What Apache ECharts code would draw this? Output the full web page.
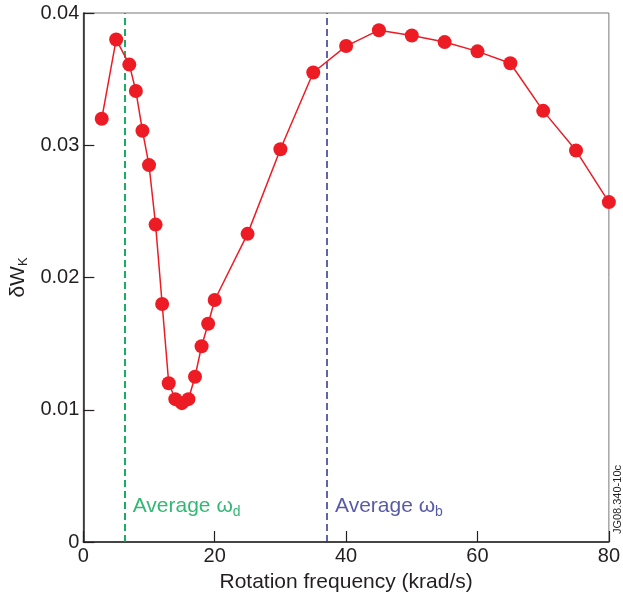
<!DOCTYPE html>
<html>
<head>
<meta charset="utf-8">
<script src="https://cdn.jsdelivr.net/npm/echarts@6/dist/echarts.min.js"></script>
<style>
  html, body { margin: 0; padding: 0; background: #fff; }
  #chart { width: 623px; height: 600px; }
</style>
</head>
<body>
<div id="chart"></div>
<script>
// rotation frequency (krad/s) and deltaW_K
const freq = [2.8, 5, 7, 8, 9, 10, 11, 12, 13, 14, 15, 16, 17, 18, 19, 20, 25, 30, 35, 40, 45, 50, 55, 60, 65, 70, 75, 80];
const dWk = [0.0320, 0.0380, 0.0361, 0.0341, 0.0311, 0.0285, 0.0240, 0.0180, 0.0120, 0.0108, 0.0105, 0.0108, 0.0125, 0.0148, 0.0165, 0.0183, 0.0233, 0.0297, 0.0355, 0.0375, 0.0387, 0.0383, 0.0378, 0.0371, 0.0362, 0.0326, 0.0296, 0.0257];

// average frequencies (vertical dashed lines)
const avgOmegaD = 6.3;
const avgOmegaB = 37.1;
const labelY = 0.0027;

const xTicks = [0, 20, 40, 60, 80];
const yTicks = [0, 0.01, 0.02, 0.03, 0.04];

const font = '"Liberation Sans", Arial, Helvetica, sans-serif';
const ink = '#231f20';
const red = '#ed1c24';
const green = '#00a651';
const blue = '#2e3192';

const chart = echarts.init(document.getElementById('chart'));

const option = {
  animation: false,
  grid: {
    left: 80,
    right: 14,
    top: 13,
    bottom: 58,
    show: true,
    borderColor: '#777',
    borderWidth: 1
  },
  xAxis: {
    type: 'value',
    min: xTicks[0],
    max: xTicks[xTicks.length - 1],
    interval: 20,
    name: 'Rotation frequency (krad/s)',
    nameLocation: 'middle',
    nameGap: 30,
    nameTextStyle: { fontFamily: font, fontSize: 21, color: ink },
    axisLine: { lineStyle: { color: ink, width: 1.5 } },
    axisTick: { inside: true, length: 11, lineStyle: { color: ink, width: 1.2 } },
    axisLabel: { fontFamily: font, fontSize: 20, color: ink, margin: 4 },
    splitLine: { show: false }
  },
  yAxis: {
    type: 'value',
    min: yTicks[0],
    max: yTicks[yTicks.length - 1],
    interval: 0.01,
    name: '{a|δW}{sub|K}',
    nameLocation: 'middle',
    nameGap: 39,
    nameRotate: 90,
    nameTextStyle: {
      fontFamily: font,
      color: ink,
      rich: {
        a: { fontFamily: font, fontSize: 21, color: ink },
        sub: { fontFamily: font, fontSize: 13, color: ink, padding: [9, 0, 0, 0] }
      }
    },
    axisLine: { lineStyle: { color: ink, width: 1.5 } },
    axisTick: { inside: true, length: 11, lineStyle: { color: ink, width: 1.2 } },
    axisLabel: {
      fontFamily: font,
      fontSize: 20,
      color: ink,
      margin: 4,
      formatter: v => (v === 0 ? '0' : v.toFixed(2))
    },
    splitLine: { show: false }
  },
  series: [
    {
      type: 'line',
      data: freq.map((f, i) => [f, dWk[i]]),
      symbol: 'circle',
      symbolSize: 14,
      lineStyle: { color: red, width: 1.5 },
      itemStyle: { color: red },
      z: 5,
      markLine: {
        silent: true,
        symbol: 'none',
        label: { show: false },
        data: [
          { xAxis: avgOmegaD, lineStyle: { color: green, type: [7, 4], width: 1.8 } },
          { xAxis: avgOmegaB, lineStyle: { color: blue, type: [7, 4], width: 1.5 } }
        ]
      }
    },
    {
      // text labels anchored at the dashed lines
      type: 'scatter',
      symbolSize: 0,
      silent: true,
      data: [
        { value: [avgOmegaD, labelY], label: { formatter: '{a|Average ω}{sub|d}', rich: {
          a: { fontFamily: font, fontSize: 21, color: green },
          sub: { fontFamily: font, fontSize: 14, color: green, padding: [11, 0, 0, 0] }
        } } },
        { value: [avgOmegaB, labelY], label: { formatter: '{a|Average ω}{sub|b}', rich: {
          a: { fontFamily: font, fontSize: 21, color: blue },
          sub: { fontFamily: font, fontSize: 14, color: blue, padding: [11, 0, 0, 0] }
        } } }
      ],
      label: { show: true, position: 'right', distance: 8 }
    }
  ],
  graphic: [
    {
      type: 'text',
      left: 612,
      top: 465,
      rotation: Math.PI / 2,
      style: { text: 'JG08.340-10c', fontFamily: font, fontSize: 11, fill: ink }
    }
  ]
};

chart.setOption(option);
</script>
</body>
</html>
